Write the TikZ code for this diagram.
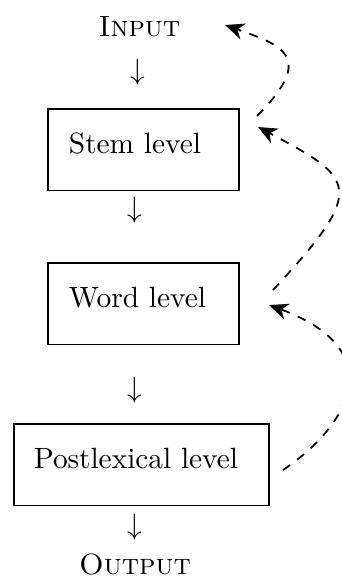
\documentclass[tikz,border=0pt]{standalone}
\usetikzlibrary{arrows.meta}
\begin{document}
\begin{tikzpicture}[x=0.341pt,y=-0.341pt,
  levelbox/.style={draw,semithick,anchor=north west,inner ysep=0pt,
    text height=15.2pt,text depth=12.6pt,align=left},
  label/.style={inner sep=0pt,anchor=base},
  downarrow/.style={inner sep=0pt},
  feedback/.style={dashed,semithick,-{Stealth[length=6.5pt,width=5.6pt,inset=2pt]}}]
\useasboundingbox (0,0) rectangle (341,583);
\node[label] (in) at (139.5,37) {\textsc{Input}};
\node[levelbox,inner xsep=7.2pt,text width=149*0.341pt] (stem) at (47,108) {Stem level};
\node[levelbox,inner xsep=7.2pt,text width=149*0.341pt] (word) at (47,262) {Word level};
\node[levelbox,inner xsep=6.8pt,text width=215*0.341pt] (post) at (13,423) {Postlexical level};
\node[label] (out) at (135,574) {\textsc{Output}};
\node[downarrow] (a1) at (138,72) {$\downarrow$};
\node[downarrow] (a2) at (135,210) {$\downarrow$};
\node[downarrow] (a3) at (135,390) {$\downarrow$};
\node[downarrow] (a4) at (135,527) {$\downarrow$};
\coordinate (s1) at (257,116);
\coordinate (e1) at (225,25);
\coordinate (s2) at (273,290);
\coordinate (e2) at (258,127);
\coordinate (s3) at (283,470);
\coordinate (e3) at (269,305);
\draw[feedback] (s1) .. controls (317,56) and (281,45) .. (e1);
\draw[feedback] (s2) .. controls (368.5,187.6) and (355,178.6) .. (e2);
\draw[feedback] (s3) .. controls (350,425) and (391,350) .. (e3);
\end{tikzpicture}
\end{document}
